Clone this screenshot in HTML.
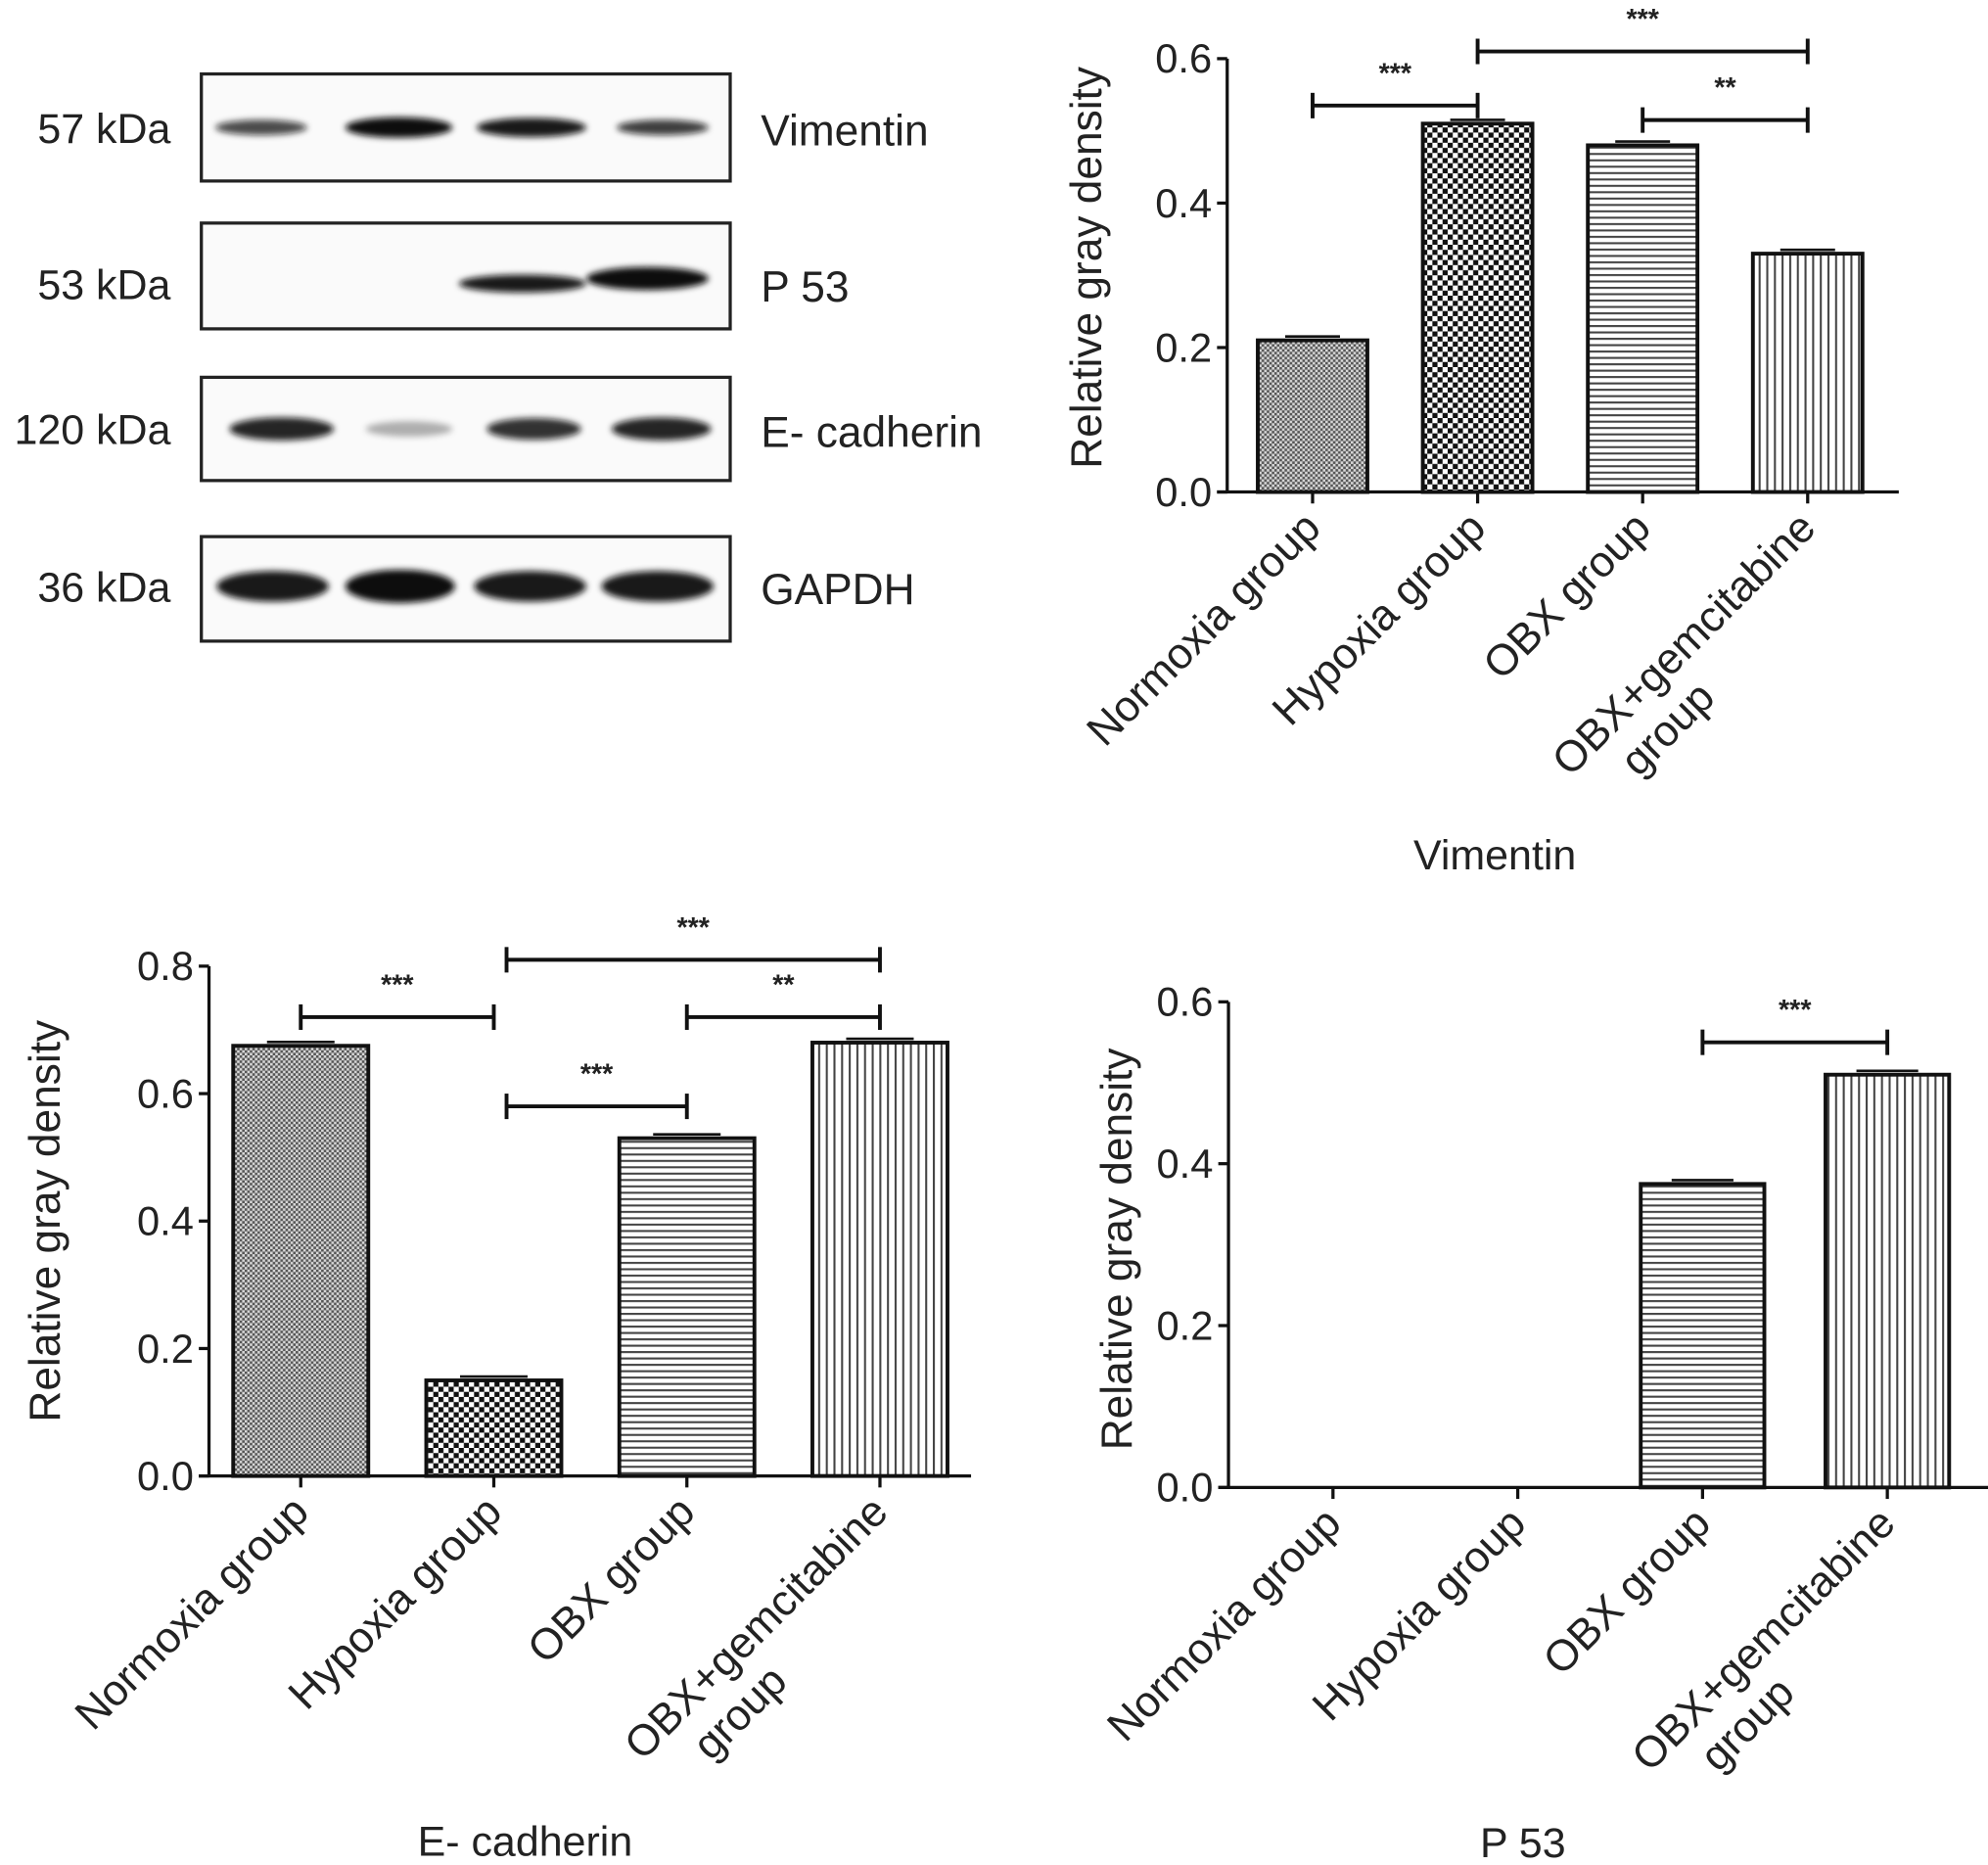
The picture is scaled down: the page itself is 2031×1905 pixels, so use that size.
<!DOCTYPE html>
<html><head><meta charset="utf-8"><style>
html,body{margin:0;padding:0;background:#fff;}
svg{display:block;font-family:"Liberation Sans",Arial,sans-serif;}
</style></head><body>
<svg id="fig" width="2031" height="1905" viewBox="0 0 1560 1463.2" xmlns="http://www.w3.org/2000/svg">
<defs>
<pattern id="pFine" width="4" height="4" patternUnits="userSpaceOnUse">
<rect width="4" height="4" fill="#d8d8d8"/><rect width="2" height="2" fill="#555"/><rect x="2" y="2" width="2" height="2" fill="#555"/></pattern>
<pattern id="pCoarse" width="8" height="8" patternUnits="userSpaceOnUse">
<rect width="8" height="8" fill="#fff"/><rect width="4" height="4" fill="#111"/><rect x="4" y="4" width="4" height="4" fill="#111"/></pattern>
<pattern id="pHoriz" width="5" height="5" patternUnits="userSpaceOnUse">
<rect width="5" height="5" fill="#fff"/><rect y="0" width="5" height="1.6" fill="#444"/></pattern>
<pattern id="pVert" width="6" height="6" patternUnits="userSpaceOnUse">
<rect width="6" height="6" fill="#fff"/><rect x="0" width="1.6" height="6" fill="#444"/></pattern>
<filter id="blur" x="-20%" y="-100%" width="140%" height="300%"><feGaussianBlur stdDeviation="2.5"/></filter>
</defs>
<g id="blot"></g>
<g id="chartV"></g>
<g id="chartE"></g>
<g id="chartP"></g>
</svg>
<script>
const categories = ["Normoxia group","Hypoxia group","OBX group","OBX+gemcitabine"];
const vimentinValues = [0.21, 0.51, 0.48, 0.33];
const ecadValues = [0.675, 0.15, 0.53, 0.68];
const p53Values = [0, 0, 0.375, 0.51];
const vimentinTicks = ["0.0","0.2","0.4","0.6"];
const ecadTicks = ["0.0","0.2","0.4","0.6","0.8"];
const p53Ticks = ["0.0","0.2","0.4","0.6"];
const vimentinSig = [[0,1,0.535,"***"],[1,3,0.61,"***"],[2,3,0.515,"**"]];
const ecadSig = [[0,1,0.72,"***"],[1,3,0.81,"***"],[1,2,0.58,"***"],[2,3,0.72,"**"]];
const p53Sig = [[2,3,0.55,"***"]];
const blotLabels = ["57 kDa","53 kDa","120 kDa","36 kDa"];
const blotNames = ["Vimentin","P 53","E- cadherin","GAPDH"];
const blotIntensity = [[0.75,1,0.95,0.8],[0.02,0.02,0.95,1],[0.9,0.3,0.85,0.9],[0.95,1,0.95,0.95]];

const NS="http://www.w3.org/2000/svg";
function mk(parent, tag, attrs, text){
  const e=document.createElementNS(NS,tag);
  for(const k in attrs) e.setAttribute(k,attrs[k]);
  if(text!==undefined) e.textContent=text;
  parent.appendChild(e); return e;
}
const fills=["url(#pFine)","url(#pCoarse)","url(#pHoriz)","url(#pVert)"];

// Western blot
(function(){
  const g=document.getElementById('blot');
  const boxes=[[58,142],[175,258],[296,377],[421,503]];
  const lanes=[[205,313,417,520],[205,313,410,508],[221,321,419,519],[214,314,416,516]];
  const widths=[[72,84,86,72],[60,60,100,96],[82,68,74,78],[88,86,88,88]];
  const hts=[[12,16,15,12],[14,14,14,18],[18,12,17,18],[24,26,24,24]];
  boxes.forEach((b,i)=>{
    const r=mk(g,'rect',{x:158,y:b[0],width:415,height:b[1]-b[0],fill:'#fafafa',stroke:'#222','stroke-width':2.5});
    
    
    const cy=(b[0]+b[1])/2-(i===3?2:0)+(i===1?6:0);
    blotIntensity[i].forEach((v,j)=>{
      if(v<0.05) return;
      const e=mk(g,'ellipse',{cx:lanes[i][j],cy:cy-(i===1&&j===3?4:0),rx:widths[i][j]/2,ry:hts[i][j]/2,fill:'#111','fill-opacity':v,filter:'url(#blur)'});
      
      
    });
    const t1=mk(g,'text',{x:134,y:cy+12,'text-anchor':'end','font-size':33,fill:'#222'},blotLabels[i]);
    
    
    const t2=mk(g,'text',{x:597,y:cy+14,'font-size':34,fill:'#222'},blotNames[i]);
    
    
  });
})();

function chart(id, o){
  const g=document.getElementById(id);
  const yPx=v=>o.y0-(v/o.ymax)*(o.y0-o.yTop);
  mk(g,'line',{x1:o.ax,y1:o.yTop,x2:o.ax,y2:o.y0,stroke:'#111','stroke-width':2.5});
  const xa=mk(g,'line',{x1:o.ax-8,y1:o.y0,x2:o.xEnd,y2:o.y0,stroke:'#111','stroke-width':2.5});
  
  
  o.ticks.forEach((t,i)=>{
    const v=parseFloat(t), y=yPx(v);
    mk(g,'line',{x1:o.ax-8,y1:y,x2:o.ax,y2:y,stroke:'#111','stroke-width':2.5});
    const tl=mk(g,'text',{x:o.ax-12,y:y+11,'text-anchor':'end','font-size':32,fill:'#222'},t);
    
    
  });
  const cx=i=>o.c0+i*o.step;
  o.values.forEach((v,i)=>{
    const x=cx(i);
    mk(g,'line',{x1:x,y1:o.y0,x2:x,y2:o.y0+9,stroke:'#111','stroke-width':2.5});
    if(v>0){
      const b=mk(g,'rect',{x:x-o.bw/2,y:yPx(v),width:o.bw,height:o.y0-yPx(v),fill:fills[i],stroke:'#111','stroke-width':3});
      
      
      const ey=yPx(v)-3;
      mk(g,'line',{x1:x-o.bw/4,y1:ey,x2:x+o.bw/4,y2:ey,stroke:'#111','stroke-width':2});
    }
    const tx=x+8, ty=o.y0+30;
    const lab=mk(g,'text',{x:0,y:0,'text-anchor':'end','font-size':34,fill:'#222',transform:`translate(${tx},${ty}) rotate(-45)`},categories[i]);
    
    
    if(i===3){
      const l2=mk(g,'text',{x:-150,y:38,'text-anchor':'end','font-size':34,fill:'#222',transform:`translate(${tx},${ty}) rotate(-45)`},'group');
      
      
    }
  });
  o.sig.forEach(s=>{
    const x1=cx(s[0])+(s[0]===1&&o.hShift?o.hShift:0), x2=cx(s[1]), y=yPx(s[2]);
    mk(g,'line',{x1:x1,y1:y,x2:x2,y2:y,stroke:'#111','stroke-width':3});
    mk(g,'line',{x1:x1,y1:y-10,x2:x1,y2:y+10,stroke:'#111','stroke-width':3});
    mk(g,'line',{x1:x2,y1:y-10,x2:x2,y2:y+10,stroke:'#111','stroke-width':3});
    const st=mk(g,'text',{x:(x1+x2)/2,y:y-18,'text-anchor':'middle','font-size':22,'font-weight':'bold',fill:'#222'},s[3]);
    
    
  });
  const yt=mk(g,'text',{x:0,y:0,'text-anchor':'middle','font-size':34,fill:'#222',transform:`translate(${o.ytx},${o.yty}) rotate(-90)`},'Relative gray density');
  
  
  const xt=mk(g,'text',{x:o.xtx,y:o.xty,'text-anchor':'middle','font-size':33,fill:'#222'},o.title);
  
  
}

chart('chartV',{values:vimentinValues,ticks:vimentinTicks,sig:vimentinSig,ax:963,y0:386,yTop:46,ymax:0.6,xEnd:1490,c0:1030,step:129.5,bw:86,ytx:864,yty:210,xtx:1173,xty:682,title:'Vimentin'});
chart('chartE',{values:ecadValues,ticks:ecadTicks,sig:ecadSig,ax:164,y0:1158,yTop:758,ymax:0.8,xEnd:762,c0:236,step:151.5,bw:106,hShift:10,ytx:47,yty:958,xtx:412,xty:1456,title:'E- cadherin'});
chart('chartP',{values:p53Values,ticks:p53Ticks,sig:p53Sig,ax:964,y0:1167,yTop:786,ymax:0.6,xEnd:1560,c0:1046,step:145,bw:97,ytx:888,yty:980,xtx:1195,xty:1457,title:'P 53'});
</script>
</body></html>
